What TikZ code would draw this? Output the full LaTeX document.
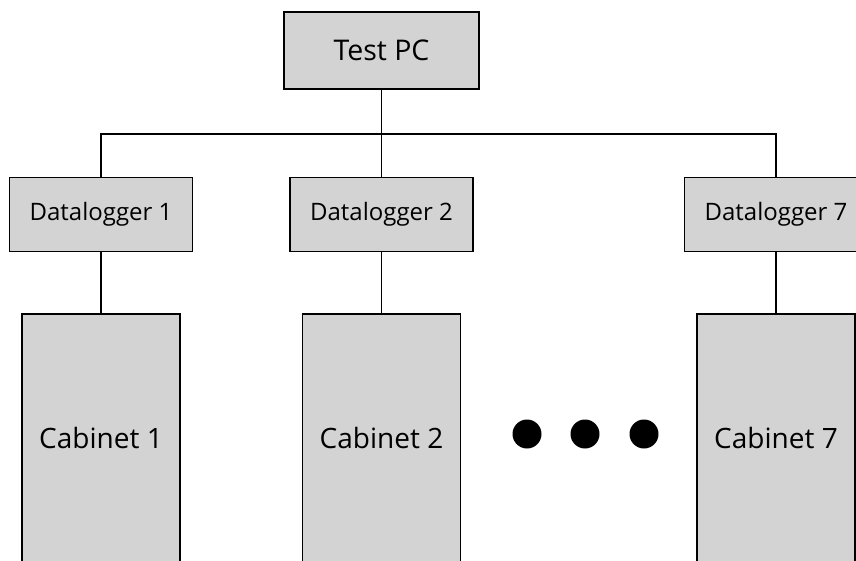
\documentclass[tikz,border=0pt]{standalone}
\usepackage{fontspec}
\setmainfont{Open Sans}
\begin{document}
\begin{tikzpicture}[x=1pt,y=-1pt,
  box/.style={draw=black,fill=boxgray,line width=1.6pt,inner sep=0pt},
  link/.style={draw=black,line width=1.4pt},
  dot/.style={circle,fill=black,inner sep=0pt,minimum size=29pt}]
\definecolor{boxgray}{RGB}{211,211,211}
\useasboundingbox (0,0) rectangle (856,560);
\clip (0,0) rectangle (856,560);
\fill[white] (0,0) rectangle (856,560);

% top level
\node[box,minimum width=195pt,minimum height=77pt,font=\fontsize{28.5}{32}\selectfont] (pc) at (381.5,50.3) {Test PC};

% data loggers
\tikzset{logger/.style={box,minimum width=183pt,minimum height=74pt,font=\fontsize{24}{28}\selectfont}}
\node[logger] (dl1) at (101,214.6) {Datalogger 1};
\node[logger] (dl2) at (381.5,214.6) {Datalogger 2};
\node[logger] (dl7) at (776,214.6) {Datalogger 7};

% cabinets, running past the lower edge
\tikzset{cabinet/.style={box,minimum width=158pt,minimum height=300pt,anchor=north}}
\node[cabinet] (c1) at (101,313) {};
\node[cabinet] (c2) at (381.5,313) {};
\node[cabinet] (c7) at (776,313) {};
\tikzset{cabtext/.style={font=\fontsize{28}{32}\selectfont}}
\node[cabtext] (t1) at (101,438) {Cabinet 1};
\node[cabtext] (t2) at (381.5,438) {Cabinet 2};
\node[cabtext] (t7) at (776,438) {Cabinet 7};

% bus
\coordinate (bus) at (381.5,134);
\draw[link] (pc.south) -- (dl2.north);
\draw[link] (dl1.north) |- (bus) -| (dl7.north);
\draw[link] (dl1.south) -- (c1.north);
\draw[link] (dl2.south) -- (c2.north);
\draw[link] (dl7.south) -- (c7.north);

% ellipsis
\node[dot] (d1) at (527,434) {};
\node[dot] (d2) at (585,434) {};
\node[dot] (d3) at (644,434) {};
\end{tikzpicture}
\end{document}
